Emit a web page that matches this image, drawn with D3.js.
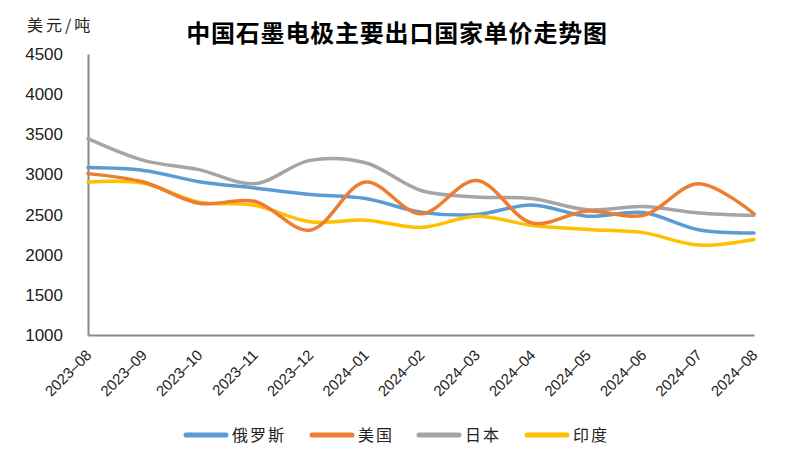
<!DOCTYPE html>
<html><head><meta charset="utf-8">
<script src="https://cdn.jsdelivr.net/npm/d3@7"></script>
<style>body{margin:0;background:#fff}svg{display:block}</style>
</head><body>
<svg id="c" width="795" height="455"></svg>
<script>
const months = ["2023–08","2023–09","2023–10","2023–11","2023–12","2024–01","2024–02","2024–03","2024–04","2024–05","2024–06","2024–07","2024–08"];
const russia = [3085,3050,2910,2830,2750,2700,2530,2500,2620,2480,2525,2310,2270];
const usa    = [3010,2905,2640,2665,2305,2905,2510,2925,2395,2545,2490,2885,2510];
const japan  = [3445,3175,3060,2885,3175,3145,2800,2720,2700,2560,2600,2520,2490];
const india  = [2905,2890,2655,2615,2410,2430,2340,2480,2365,2315,2275,2120,2190];
const seriesNames = ["俄罗斯","美国","日本","印度"];
const colors = ["#5B9BD5","#ED7D31","#A5A5A5","#FFC000"];
const yTicks = [1000,1500,2000,2500,3000,3500,4000,4500];

const svg = d3.select("#c");
const x = d3.scalePoint().domain(months).range([88, 754]);
const y = d3.scaleLinear().domain([1000, 4500]).range([335, 54]);
const cjk = "'Noto Sans CJK SC', sans-serif";

svg.append("text").attr("x", 397).attr("y", 42).attr("text-anchor", "middle")
  .style("font-family", cjk).style("font-weight", "bold").style("font-size", "24px")
  .style("letter-spacing", "0.8px").attr("fill", "#000").text("中国石墨电极主要出口国家单价走势图");
svg.append("text").attr("x", 27).attr("y", 31)
  .style("font-family", cjk).style("font-size", "16px").style("letter-spacing", "3px")
  .attr("fill", "#222").text("美元/吨");

// Y axis
const ya = svg.append("g").attr("transform", "translate(88,0)")
  .call(d3.axisLeft(y).tickValues(yTicks).tickSize(0).tickPadding(25).tickFormat(d3.format("d")));
ya.select(".domain").attr("stroke", "#888").attr("stroke-width", 2);
ya.selectAll("text").style("font-family", "'Liberation Sans', Arial, sans-serif").style("font-size", "17px").attr("fill", "#222");

// X axis
const xa = svg.append("g").attr("transform", "translate(0,335)")
  .call(d3.axisBottom(x).tickSize(0));
xa.select(".domain").attr("stroke", "#888").attr("stroke-width", 2);
xa.selectAll("text").style("font-family", "'Liberation Sans', Arial, sans-serif").style("font-size", "15px").attr("fill", "#222")
  .attr("text-anchor", "end").attr("x", 0).attr("y", 0).attr("dx", 0).attr("dy", 0)
  .attr("transform", "translate(4,21) rotate(-45)");

const data = [russia, usa, japan, india];
const line = d3.line().x((d, i) => x(months[i])).y(d => y(d)).curve(d3.curveCatmullRom.alpha(0.5));
const order = [0, 2, 3, 1];
order.forEach(k => {
  svg.append("path").datum(data[k]).attr("d", line).attr("fill", "none")
    .attr("stroke", colors[k]).attr("stroke-width", 3.5).attr("stroke-linecap", "round");
});

// Legend
const legX = [186, 312, 419, 527];
seriesNames.forEach((n, i) => {
  svg.append("line").attr("x1", legX[i]).attr("x2", legX[i] + 40).attr("y1", 435).attr("y2", 435)
    .attr("stroke", colors[i]).attr("stroke-width", 5).attr("stroke-linecap", "round");
  svg.append("text").attr("x", legX[i] + 46).attr("y", 441)
    .style("font-family", cjk).style("font-size", "16px").style("letter-spacing", "2px")
    .attr("fill", "#222").text(n);
});
</script>
</body></html>
